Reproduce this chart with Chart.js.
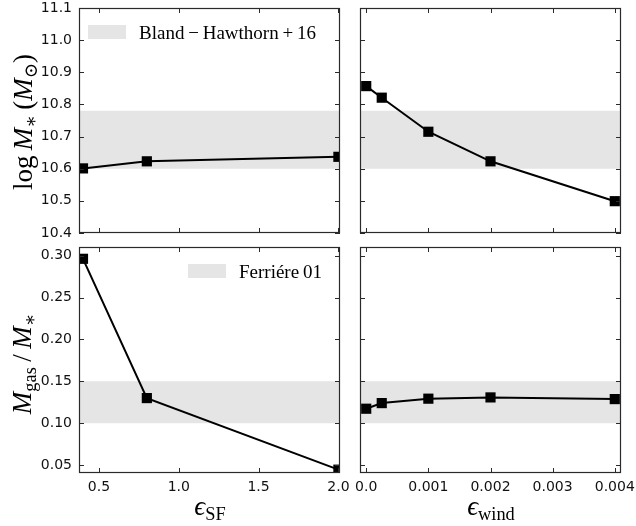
<!DOCTYPE html>
<html><head><meta charset="utf-8">
<script src="https://cdn.jsdelivr.net/npm/chart.js@4.4.1/dist/chart.umd.min.js"></script>
<style>
html,body{margin:0;padding:0;background:#fff;}
#wrap{position:relative;width:636px;height:526px;overflow:hidden;background:#fff;}
canvas{position:absolute;left:0;top:0;}
.t{position:absolute;font-family:"Liberation Serif","DejaVu Serif",serif;color:#000;white-space:nowrap;line-height:1;}
.t i{font-style:italic;}
.t sub{font-size:68%;vertical-align:-0.28em;line-height:0;}
.rot{transform:translate(-50%,-50%) rotate(-90deg);}
.ctr{transform:translate(-50%,-50%);}
.patch{position:absolute;background:#e5e5e5;}
</style></head>
<body><div id="wrap">
<canvas id="cTL" width="636" height="526"></canvas>
<canvas id="cTR" width="636" height="526"></canvas>
<canvas id="cBL" width="636" height="526"></canvas>
<canvas id="cBR" width="636" height="526"></canvas>
<div class="t rot" style="left:23px;top:122px;font-size:27px;">log&#8201;<i>M</i><sub>&#8727;</sub>&#8201;(<i>M</i><sub>&#8857;</sub>)</div>
<div class="t rot" style="left:22px;top:364px;font-size:27px;"><i>M</i><sub>gas</sub>&#8201;/&#8201;<i>M</i><sub>&#8727;</sub></div>
<div class="t ctr" style="left:210px;top:506px;font-size:27px;"><i>&#1013;</i><sub>SF</sub></div>
<div class="t ctr" style="left:491px;top:506px;font-size:27px;"><i>&#1013;</i><sub>wind</sub></div>
<div class="patch" style="left:88px;top:25px;width:38px;height:14px;"></div>
<div class="t" style="left:139px;top:23px;font-size:19px;">Bland&#8201;&#8722;&#8201;Hawthorn&#8201;+&#8201;16</div>
<div class="patch" style="left:188px;top:264px;width:38px;height:14px;"></div>
<div class="t" style="left:239px;top:262px;font-size:19px;">Ferriére&#8201;01</div>
</div>
<script>
// ---- data ----
const sfValues = [0.4, 0.8, 2.0];
const windValues = [0.0, 0.00025, 0.001, 0.002, 0.004];
const logMstarSF = [10.601, 10.623, 10.637];
const logMstarWind = [10.857, 10.821, 10.715, 10.623, 10.499];
const gasFracSF = [0.2964, 0.130, 0.0445];
const gasFracWind = [0.1173, 0.124, 0.1293, 0.1308, 0.1288];
const blandHawthornBand = [10.6, 10.78];
const ferriereBand = [0.10, 0.15];
const sfTicks = [0.5, 1.0, 1.5, 2.0];
const sfTickLabels = ['0.5', '1.0', '1.5', '2.0'];
const windTicks = [0.0, 0.001, 0.002, 0.003, 0.004];
const windTickLabels = ['0.0', '0.001', '0.002', '0.003', '0.004'];
const mstarTicks = [10.4, 10.5, 10.6, 10.7, 10.8, 10.9, 11.0, 11.1];
const mstarTickLabels = ['10.4', '10.5', '10.6', '10.7', '10.8', '10.9', '11.0', '11.1'];
const gasTicks = [0.05, 0.10, 0.15, 0.20, 0.25, 0.30];
const gasTickLabels = ['0.05', '0.10', '0.15', '0.20', '0.25', '0.30'];
const sfRange = [0.375, 2.01];
const windRange = [-0.0001, 0.0041];
const mstarRange = [10.4, 11.1];
const gasRange = [0.0405, 0.3105];

const W = 636, H = 526;
const TICK_LEN = 5;
const FRAME = '#2a2a2a';

const framePlugin = {
  id: 'frame',
  afterDatasetsDraw(chart) {
    const { ctx, chartArea: a } = chart;
    const xs = chart.scales.x, ys = chart.scales.y;
    ctx.save();
    ctx.strokeStyle = FRAME;
    ctx.lineWidth = 1;
    ctx.beginPath();
    xs.ticks.forEach(t => {
      const p = Math.round(xs.getPixelForValue(t.value)) + 0.5;
      ctx.moveTo(p, a.bottom); ctx.lineTo(p, a.bottom - TICK_LEN);
      ctx.moveTo(p, a.top); ctx.lineTo(p, a.top + TICK_LEN);
    });
    ys.ticks.forEach(t => {
      const p = Math.round(ys.getPixelForValue(t.value)) + 0.5;
      ctx.moveTo(a.left, p); ctx.lineTo(a.left + TICK_LEN, p);
      ctx.moveTo(a.right, p); ctx.lineTo(a.right - TICK_LEN, p);
    });
    ctx.stroke();
    ctx.lineWidth = 1.2;
    ctx.strokeRect(a.left + 0.5, a.top + 0.5, a.width - 1, a.height - 1);
    ctx.restore();
  }
};

function makePanel(id, area, xv, yv, band, xRange, yRange, xTicks, xLabels, yTicks, yLabels, showX, showY) {
  const yW = showY ? 60 : 0;
  const xH = showX ? 40 : 0;
  const padding = {
    left: area.l - yW,
    top: area.t,
    right: W - area.r,
    bottom: H - area.b - xH
  };
  const pts = xv.map((x, i) => ({ x: x, y: yv[i] }));
  const bandPts = [{ x: xRange[0], y: band[1] }, { x: xRange[1], y: band[1] }];
  new Chart(document.getElementById(id), {
    type: 'scatter',
    data: {
      datasets: [
        {
          data: bandPts, showLine: true, borderWidth: 0, pointRadius: 0,
          backgroundColor: '#e5e5e5', borderColor: 'rgba(0,0,0,0)',
          fill: { value: band[0] }, order: 2
        },
        {
          data: pts, showLine: true, borderColor: '#000', borderWidth: 2,
          backgroundColor: '#000', pointStyle: 'rect', pointRadius: 7.2,
          pointBorderWidth: 0, pointBackgroundColor: '#000', clip: 0, order: 1, fill: false
        }
      ]
    },
    options: {
      responsive: false, animation: false, devicePixelRatio: 1,
      events: [],
      layout: { padding: padding },
      plugins: { legend: { display: false }, tooltip: { enabled: false } },
      scales: {
        x: {
          type: 'linear', min: xRange[0], max: xRange[1],
          grid: { display: false, drawTicks: false },
          border: { display: false },
          afterBuildTicks: s => { s.ticks = xTicks.map(v => ({ value: v })); },
          afterFit: s => { s.height = xH; s.paddingLeft = 0; s.paddingRight = 0; },
          ticks: {
            display: showX, padding: 6, color: '#111', maxRotation: 0, autoSkip: false,
            font: { family: 'DejaVu Sans', size: 14 },
            callback: (v, i) => xLabels[i]
          }
        },
        y: {
          type: 'linear', min: yRange[0], max: yRange[1],
          grid: { display: false, drawTicks: false },
          border: { display: false },
          afterBuildTicks: s => { s.ticks = yTicks.map(v => ({ value: v })); },
          afterFit: s => { s.width = yW; s.paddingTop = 0; s.paddingBottom = 0; },
          ticks: {
            display: showY, padding: 7, color: '#111', autoSkip: false,
            font: { family: 'DejaVu Sans', size: 14 },
            callback: (v, i) => yLabels[i]
          }
        }
      }
    },
    plugins: [framePlugin]
  });
}

makePanel('cTL', { l: 79, t: 8, r: 340, b: 233 }, sfValues, logMstarSF, blandHawthornBand,
  sfRange, mstarRange, sfTicks, sfTickLabels, mstarTicks, mstarTickLabels, false, true);
makePanel('cTR', { l: 360, t: 8, r: 621, b: 233 }, windValues, logMstarWind, blandHawthornBand,
  windRange, mstarRange, windTicks, windTickLabels, mstarTicks, mstarTickLabels, false, false);
makePanel('cBL', { l: 79, t: 247, r: 340, b: 473 }, sfValues, gasFracSF, ferriereBand,
  sfRange, gasRange, sfTicks, sfTickLabels, gasTicks, gasTickLabels, true, true);
makePanel('cBR', { l: 360, t: 247, r: 621, b: 473 }, windValues, gasFracWind, ferriereBand,
  windRange, gasRange, windTicks, windTickLabels, gasTicks, gasTickLabels, true, false);
</script>
</body></html>
